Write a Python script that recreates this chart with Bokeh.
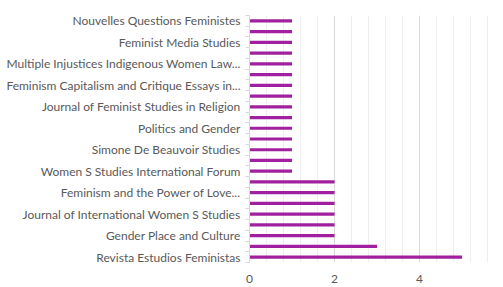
from bokeh.plotting import figure
from bokeh.models import FixedTicker, Range1d, ColumnDataSource
from bokeh.embed import file_html
from bokeh.resources import INLINE

# Categories shown on the axis (every other bar is labelled), top to bottom
shown_labels = [
    "Nouvelles Questions Feministes",
    "Feminist Media Studies",
    "Multiple Injustices Indigenous Women Law...",
    "Feminism Capitalism and Critique Essays in...",
    "Journal of Feminist Studies in Religion",
    "Politics and Gender",
    "Simone De Beauvoir Studies",
    "Women S Studies International Forum",
    "Feminism and the Power of Love...",
    "Journal of International Women S Studies",
    "Gender Place and Culture",
    "Revista Estudios Feministas",
]
# Counts for all 23 bars, top to bottom
counts = [1, 1, 1, 1, 1, 1, 1, 1, 1, 1, 1, 1, 1, 1, 1,
          2, 2, 2, 2, 2, 2, 3, 5]
x_ticks = [0, 2, 4, 6]

n = len(counts)
ypos = [n - 1 - i for i in range(n)]
src = ColumnDataSource(dict(y=ypos, v=counts))

p = figure(width=503, height=287, output_backend="svg", toolbar_location=None,
           x_range=Range1d(0, 5.95), y_range=Range1d(-0.5, n - 0.5),
           min_border_left=249, min_border_right=1, min_border_top=15,
           min_border_bottom=25)
p.outline_line_color = None
p.background_fill_color = "white"

p.hbar(y="y", left=0, right="v", height=0.3, source=src,
       fill_color="#A0209F", line_color=None)

# y axis
label_pos = [n - 1 - 2 * k for k in range(len(shown_labels))]
p.yaxis.ticker = FixedTicker(ticks=label_pos,
                             minor_ticks=[k - 0.5 for k in range(n + 1)])
p.yaxis.major_label_overrides = {pos: lab for pos, lab in zip(label_pos, shown_labels)}
p.yaxis.major_tick_out = 0
p.yaxis.major_tick_in = 0
p.yaxis.minor_tick_out = 4
p.yaxis.minor_tick_in = 0
p.yaxis.minor_tick_line_color = "#d9d9d9"
p.yaxis.axis_line_color = "#d9d9d9"
p.yaxis.major_label_text_font = "Lato"
p.yaxis.major_label_text_font_size = "12px"
p.yaxis.major_label_text_color = "#595959"
p.yaxis.major_label_standoff = 5
p.ygrid.grid_line_color = None

# x axis
p.xaxis.ticker = FixedTicker(ticks=x_ticks)
p.xaxis.axis_line_color = None
p.xaxis.major_tick_line_color = None
p.xaxis.minor_tick_line_color = None
p.xaxis.major_label_text_font = "Lato"
p.xaxis.major_label_text_font_size = "12px"
p.xaxis.major_label_text_color = "#595959"
p.xaxis.major_label_standoff = 6

p.xgrid.ticker = FixedTicker(ticks=[2, 4],
                             minor_ticks=[round(0.4 * k, 1) for k in range(1, 15)])
p.xgrid.grid_line_color = "#d9d9d9"
p.xgrid.minor_grid_line_color = "#eeeeee"

open("out.html", "w").write(file_html(p, INLINE))
